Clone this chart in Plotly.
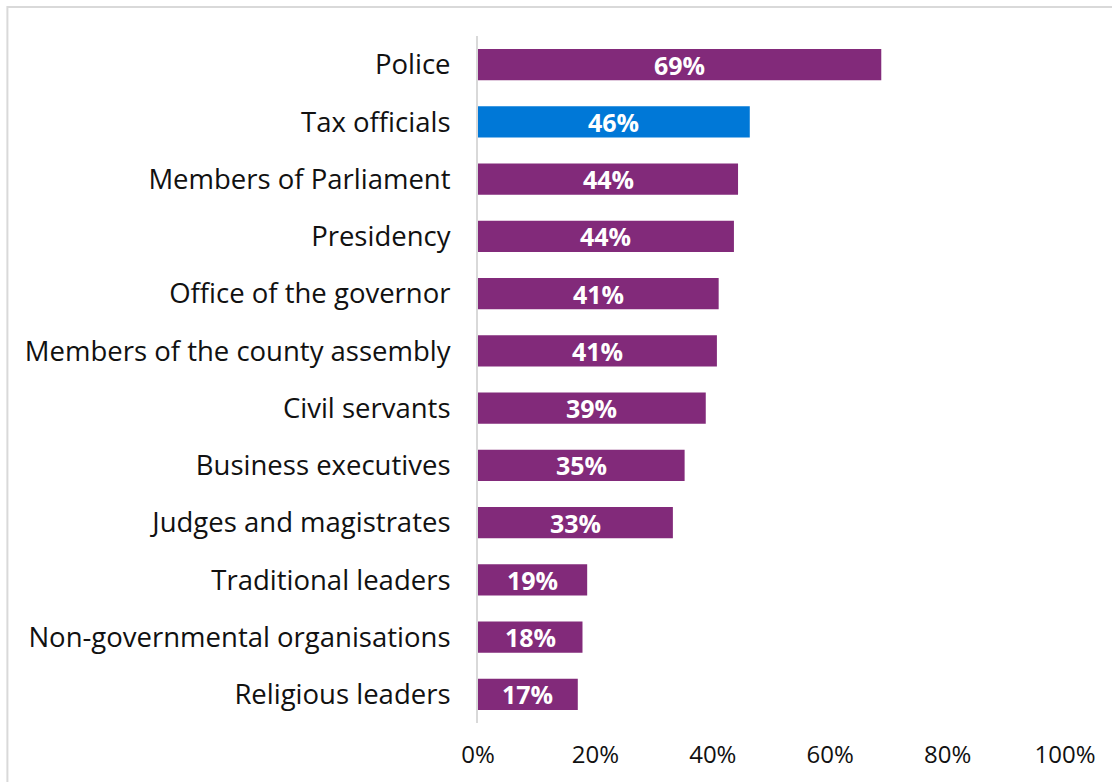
import plotly.graph_objects as go

categories = [
    "Police", "Tax officials", "Members of Parliament", "Presidency",
    "Office of the governor", "Members of the county assembly", "Civil servants",
    "Business executives", "Judges and magistrates", "Traditional leaders",
    "Non-governmental organisations", "Religious leaders",
]
values = [68.7, 46.3, 44.3, 43.6, 41.0, 40.7, 38.8, 35.2, 33.2, 18.6, 17.8, 17.0]
labels = ["69%", "46%", "44%", "44%", "41%", "41%", "39%", "35%", "33%", "19%", "18%", "17%"]
highlight = "Tax officials"
x_ticks = [0, 20, 40, 60, 80, 100]
x_tick_text = ["0%", "20%", "40%", "60%", "80%", "100%"]

PURPLE = "#822A7A"
BLUE = "#0078D7"
colors = [BLUE if c == highlight else PURPLE for c in categories]
FONT = "Open Sans"

fig = go.Figure()
fig.add_trace(go.Bar(
    x=values, y=categories, orientation="h",
    marker=dict(color=colors, line=dict(width=0)),
    hoverinfo="skip",
))

annotations = [
    dict(x=v / 2, y=c, xref="x", yref="y", text=t, showarrow=False,
         xanchor="center", yanchor="middle", yshift=0,
         font=dict(family=FONT, size=25, color="white", weight="bold"))
    for c, v, t in zip(categories, values, labels)
]

W, H = 1112, 782
L, R, T, B = 478, 46.5, 36, 59
pw, ph = W - L - R, H - T - B

fig.update_layout(
    width=W, height=H,
    margin=dict(l=L, r=R, t=T, b=B),
    paper_bgcolor="white", plot_bgcolor="white",
    bargap=0.45, showlegend=False,
    font=dict(family=FONT, color="#111111"),
    annotations=annotations,
    xaxis=dict(range=[0, 100], tickvals=x_ticks, ticktext=x_tick_text,
               showgrid=False, zeroline=False, showline=False,
               tickfont=dict(family=FONT, size=24, color="#111111"),
               ticks="outside", ticklen=10, tickcolor="rgba(0,0,0,0)", fixedrange=True),
    yaxis=dict(range=[len(categories) - 0.5, -0.5], autorange=False,
               showgrid=False, zeroline=False,
               showline=True, linecolor="#D9D9D9", linewidth=2,
               tickfont=dict(family=FONT, size=27.5, color="#111111"),
               ticks="outside", ticklen=20, tickcolor="rgba(0,0,0,0)", fixedrange=True),
    shapes=[dict(type="rect", xref="paper", yref="paper",
                 x0=(7 - L) / pw, x1=(W + 20 - L) / pw,
                 y0=(H - B - (H + 20)) / ph, y1=(H - B - 7) / ph,
                 line=dict(color="#D9D9D9", width=2), fillcolor="rgba(0,0,0,0)",
                 layer="below")],
)

fig.write_html("out.html", config={"displayModeBar": False},
               post_script="document.body.style.margin='0';")
